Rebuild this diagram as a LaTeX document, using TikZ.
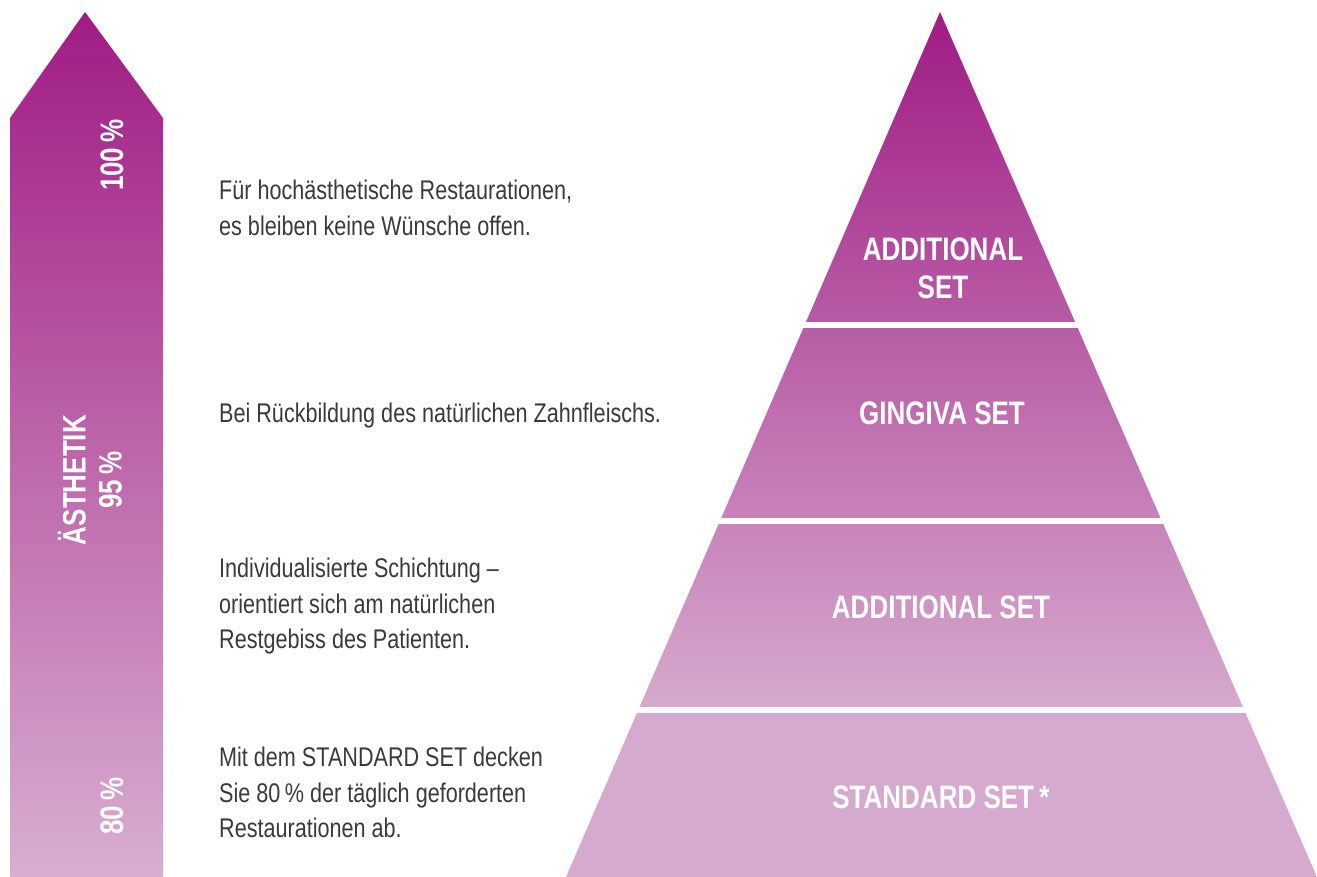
\documentclass[tikz,border=0pt]{standalone}
\usepackage{fontspec}
\setmainfont{Liberation Sans}[FakeStretch=0.8]
\usepackage{xcolor}
\usepackage{tikz}
\definecolor{lilatop}{HTML}{A01C84}
\definecolor{lilalow}{HTML}{D6AACE}
\definecolor{arrowlow}{HTML}{D8AED0}
\definecolor{textgray}{HTML}{3A3A3A}
\pgfdeclareverticalshading{pyramidshade}{100bp}{color(0bp)=(lilalow); color(25bp)=(lilalow);
  color(34.6bp)=(lilalow); color(75bp)=(lilatop); color(100bp)=(lilatop)}
\pgfdeclareverticalshading{arrowshade}{100bp}{color(0bp)=(arrowlow); color(25bp)=(arrowlow);
  color(75bp)=(lilatop); color(100bp)=(lilatop)}
\tikzstyle{setlabel} = [text=white, font=\bfseries\fontsize{32.5}{38}\selectfont,
align=center, inner sep=0pt]
\tikzstyle{arrowlabel} = [text=white, font=\bfseries\fontsize{32.5}{36}\selectfont,
align=center, rotate=90, inner sep=0pt]
\tikzstyle{desc} = [text=textgray, font=\fontsize{27}{35.5}\selectfont,
align=left, anchor=north west, inner sep=0pt]
\tikzstyle{gap} = [white, line width=6pt]

\begin{document}
\begin{tikzpicture}[x=1pt, y=-1pt]
        \useasboundingbox (0,0) rectangle (1317,877);
        % arrow
        \shade[shading=arrowshade] (10,877) -- (10,118) -- (85,12) -- (163,118)
            -- (163,877) -- cycle;
        \node [arrowlabel] (top) at (112,155) {100\,\%};
        \node [arrowlabel] (mid) at (90,480) {ÄSTHETIK\\95\,\%};
        \node [arrowlabel] (low) at (112,806) {80\,\%};
        % pyramid
        \shade[shading=pyramidshade] (940,12) -- (1317,877) -- (566,877) -- cycle;
        \draw [gap] (760,325) -- (1120,325);
        \draw [gap] (690,521) -- (1190,521);
        \draw [gap] (610,710) -- (1270,710);
        \node [setlabel] (additional) at (943,268) {ADDITIONAL\\SET};
        \node [setlabel] (gingiva) at (942,413) {GINGIVA SET};
        \node [setlabel] (additional2) at (941,607) {ADDITIONAL SET};
        \node [setlabel] (standard) at (941,797) {STANDARD SET\,*};
        % descriptions
        \node [desc] (descA) at (219,180) {Für hochästhetische Restaurationen,\\
            es bleiben keine Wünsche offen.};
        \node [desc] (descB) at (219,403) {Bei Rückbildung des natürlichen Zahnfleischs.};
        \node [desc] (descC) at (219,558) {Individualisierte Schichtung --\\
            orientiert sich am natürlichen\\Restgebiss des Patienten.};
        \node [desc] (descD) at (219,747) {Mit dem STANDARD SET decken\\
            Sie 80\,\% der täglich geforderten\\Restaurationen ab.};
    \end{tikzpicture}
\end{document}
